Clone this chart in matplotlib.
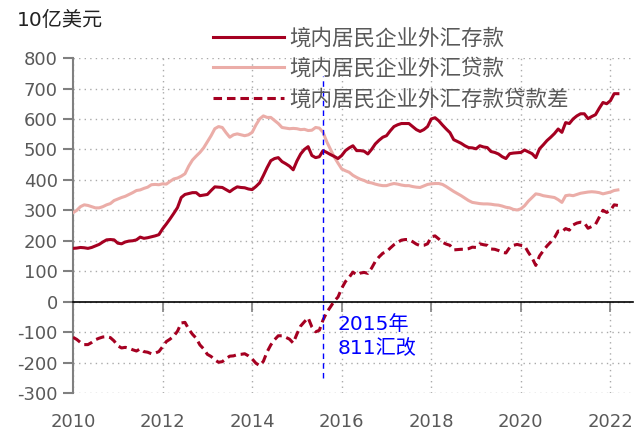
import numpy as np
import matplotlib
matplotlib.use('Agg')
import matplotlib.pyplot as plt

plt.rcParams['font.family'] = ['DejaVu Sans', 'Noto Sans CJK SC']
plt.rcParams['axes.unicode_minus'] = False

# 月度数据, 2010-01 到 2022-03, 单位: 10亿美元
deposits = [
    175, 176, 178, 177, 175, 178, 183, 188, 196, 203, 204, 203,   # 2010
    192, 190, 196, 199, 200, 203, 212, 208, 210, 213, 216, 220,   # 2011
    239, 255, 272, 290, 309, 342, 352, 355, 358, 358, 348, 350,   # 2012
    352, 365, 377, 376, 375, 368, 361, 370, 377, 375, 374, 370,   # 2013
    368, 378, 390, 414, 440, 463, 470, 473, 460, 453, 445, 433,   # 2014
    462, 485, 500, 509, 480, 473, 476, 496, 490, 483, 477, 470,   # 2015
    480, 496, 505, 512, 496, 496, 494, 485, 500, 518, 530, 540,   # 2016
    545, 561, 575, 581, 585, 585, 585, 575, 565, 559, 565, 575,   # 2017
    600, 604, 594, 580, 567, 555, 532, 526, 520, 512, 506, 505,   # 2018
    502, 512, 508, 506, 493, 490, 485, 476, 470, 486, 488, 489,   # 2019
    490, 498, 492, 486, 473, 502, 515, 529, 540, 552, 567, 556,   # 2020
    588, 585, 600, 610, 617, 617, 601, 608, 614, 635, 654, 650,   # 2021
    660, 683, 683,                                                # 2022
]
loans = [
    292, 300, 312, 318, 316, 312, 308, 308, 312, 318, 322, 332,   # 2010
    337, 342, 346, 352, 358, 365, 367, 372, 376, 384, 385, 384,   # 2011
    387, 386, 395, 403, 406, 412, 420, 445, 465, 478, 490, 505,   # 2012
    525, 545, 568, 575, 572, 555, 540, 548, 551, 548, 545, 548,   # 2013
    556, 580, 600, 610, 605, 605, 595, 585, 572, 570, 568, 569,   # 2014
    568, 565, 566, 562, 563, 572, 570, 556, 525, 500, 475, 455,   # 2015
    436, 430, 425, 415, 408, 402, 398, 392, 390, 386, 383, 381,   # 2016
    381, 385, 388, 386, 383, 381, 381, 378, 376, 375, 380, 385,   # 2017
    387, 388, 388, 385, 378, 370, 362, 355, 348, 340, 332, 326,   # 2018
    324, 322, 321, 321, 320, 318, 317, 314, 310, 308, 303, 301,   # 2019
    305, 315, 330, 342, 354, 352, 348, 346, 344, 342, 335, 326,   # 2020
    348, 350, 348, 352, 356, 358, 360, 361, 360, 358, 354, 357,   # 2021
    360, 365, 367,                                                # 2022
]

labels = ['境内居民企业外汇存款', '境内居民企业外汇贷款', '境内居民企业外汇存款贷款差']
reform_date = 2015 + 7 / 12   # 2015年8月11日汇改
xticks = [2010, 2012, 2014, 2016, 2018, 2020, 2022]
yticks = list(range(-300, 801, 100))

dep = np.array(deposits)
lon = np.array(loans)
gap = dep - lon
t = 2010 + np.arange(len(dep)) / 12

fig = plt.figure(figsize=(6.36, 4.3), dpi=100)
ax = fig.add_axes([0.1148, 0.086, 0.8802, 0.779])

dark = '#A50021'
pink = '#EBADA8'
gray = '#595959'

ax.plot(t, dep, color=dark, lw=2.2, label=labels[0], zorder=4)
ax.plot(t, lon, color=pink, lw=2.2, label=labels[1], zorder=3)
ax.plot(t, gap, color=dark, lw=2.2, ls=(0, (2.8, 1.6)), label=labels[2], zorder=4)

ax.vlines(reform_date, -250, 740, colors='#0000FF', linestyles=(0, (4, 3)), lw=1.0, zorder=5)
ax.text(reform_date + 0.33, -45, '2015年\n811汇改', color='#0000FF', fontsize=14.5,
        va='top', ha='left', linespacing=1.3)

ax.set_xlim(2010, 2022.5)
ax.set_ylim(-300, 800)
ax.set_xticks(xticks)
ax.set_yticks(yticks)
ax.set_yticklabels([str(v) for v in yticks])

ax.grid(True, color='#AAAAAA', ls=(0, (1, 3)), lw=1.0)
ax.set_axisbelow(True)

for s in ['top', 'right']:
    ax.spines[s].set_visible(False)
ax.spines['left'].set_color('#808080')
ax.spines['left'].set_linewidth(1.5)
ax.spines['bottom'].set_position(('data', 0))
ax.spines['bottom'].set_color('black')
ax.spines['bottom'].set_linewidth(1.2)

ax.tick_params(axis='y', direction='out', length=7, width=1.5, color='#808080',
               labelsize=13, labelcolor=gray, pad=4)
ax.tick_params(axis='x', direction='out', length=7, width=1.2, color='#808080',
               labelsize=13, labelcolor=gray, pad=73)

leg = ax.legend(loc='upper left', bbox_to_anchor=(0.335, 0.935), bbox_transform=fig.transFigure,
                frameon=False, fontsize=15.5, handlelength=3.3, handletextpad=0.25,
                labelspacing=0.45, borderpad=0, borderaxespad=0)
for txt in leg.get_texts():
    txt.set_color(gray)

fig.text(17 / 636, 1 - 20 / 430, '10亿美元', fontsize=14.5, color='#222222', va='center', ha='left')

fig.savefig('out.png', dpi=100)
